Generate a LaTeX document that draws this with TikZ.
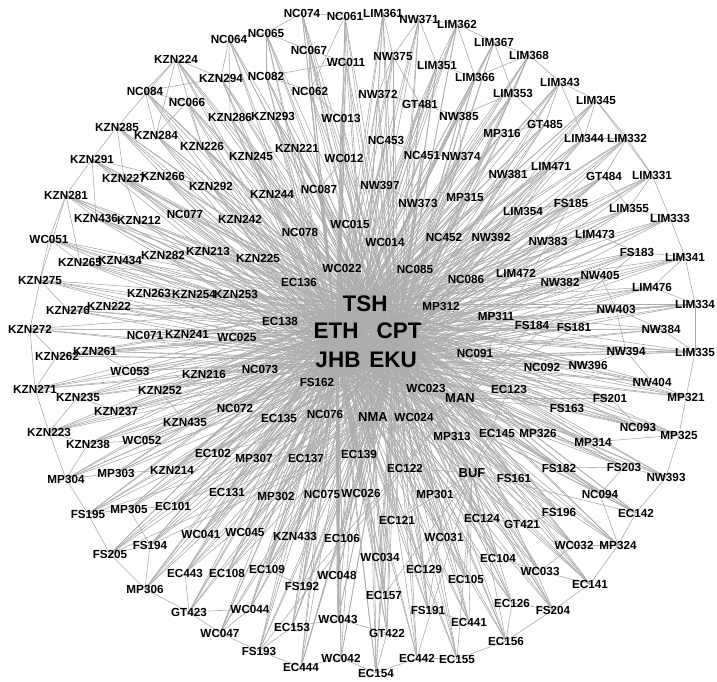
\documentclass[tikz,border=0pt]{standalone}
\usepackage{fontspec}
\setmainfont{Liberation Sans}
\pgfdeclarelayer{bg}
\pgfsetlayers{bg,main}
\definecolor{edgegray}{RGB}{172,172,172}
\tikzset{
  lbl/.style={font=\fontsize{11.7}{12}\selectfont\bfseries, inner sep=0pt, text=black},
  hublbl/.style={font=\fontsize{22.5}{24}\selectfont\bfseries, inner sep=0pt, text=black},
  midlbl/.style={font=\fontsize{13}{14}\selectfont\bfseries, inner sep=0pt, text=black},
  edge/.style={draw=edgegray, line width=0.6pt}
}
\def\allnodes{NC074/302/13, NC061/345/16, LIM361/383/13, NW371/419/19, LIM362/457/24,
NC064/229/39, NC065/266/33, NC067/309/50, WC011/346/62, NW375/393/56, LIM351/437/65,
LIM367/494/42, LIM368/529/55, KZN224/176/59, KZN294/221/78, NC082/266/76, NC062/310/91,
NW372/378/94, GT481/420/104, LIM366/475/77, LIM353/513/93, LIM343/560/82, NC084/145/91,
NC066/187/102, KZN286/230/117, KZN293/273/116, WC013/341/118, NW385/459/116, LIM345/596/100,
MP316/502/133, GT485/545/124, KZN285/117/127, KZN284/156/135, KZN226/202/146, KZN245/251/156,
KZN221/297/148, WC012/344/158, NC453/386/140, NC451/422/155, NW374/461/156, LIM344/584/138,
LIM332/627/138, KZN291/92/159, KZN227/124/178, KZN266/163/176, KZN292/211/186, KZN244/272/194,
NC087/319/189, NW397/380/185, NW381/508/174, LIM471/551/166, GT484/604/176, LIM331/652/175,
KZN281/66/195, KZN436/96/218, KZN212/139/220, NC077/185/214, KZN242/240/219, WC015/350/224,
NW373/418/203, MP315/465/197, LIM354/523/211, FS185/571/203, LIM355/629/208, LIM333/670/218,
NC078/300/232, WC014/385/242, NC452/444/237, NW392/491/237, NW383/548/241, LIM473/595/234,
FS183/637/252, LIM341/685/257, WC051/49/239, KZN265/80/262, KZN434/120/260, KZN282/163/255,
KZN213/208/251, KZN225/258/258, WC022/342/268, NC085/415/269, NC086/466/279, LIM472/516/273,
NW382/560/282, NW405/600/275, LIM476/652/287, KZN275/40/280, KZN263/149/293, KZN254/194/294,
KZN253/236/294, EC136/299/282, MP312/441/306, NW403/616/309, LIM334/695/304, KZN276/68/310,
KZN222/109/306, EC138/280/321, MP311/496/316, FS184/532/325, FS181/574/327, NW384/661/329,
KZN272/30/329, NC071/145/335, KZN241/187/334, WC025/237/337, KZN262/57/356, KZN261/95/351,
NC091/475/353, NW394/626/351, LIM335/695/352, NC092/542/367, NW396/588/365, WC053/130/371,
KZN216/204/374, NC073/260/369, NW404/652/382, KZN271/35/389, KZN235/78/397, KZN252/160/390,
FS162/317/382, WC023/426/388, EC123/509/389, FS201/610/398, MP321/686/397, KZN237/116/411,
NC072/235/408, FS163/567/408, KZN435/185/422, EC135/279/418, NC076/325/414, WC024/414/417,
NC093/638/427, MP325/679/435, KZN223/49/432, WC052/142/440, KZN238/88/444, MP313/452/436,
EC145/497/433, MP326/538/433, MP314/593/442, EC102/213/453, MP307/254/458, EC137/306/458,
EC139/359/454, EC122/405/468, FS161/514/478, FS182/559/468, FS203/624/467, NW393/666/477,
MP304/66/479, MP303/116/473, KZN214/172/470, EC131/227/492, NC094/600/494, MP302/276/496,
NC075/322/494, WC026/361/493, MP301/435/494, FS195/88/514, MP305/129/509, EC101/173/506,
EC121/397/520, EC124/482/518, GT421/522/524, FS196/559/512, EC142/636/513, WC041/201/534,
WC045/245/532, KZN433/295/536, EC106/342/538, WC031/444/537, WC032/574/545, MP324/618/545,
FS205/110/554, FS194/150/545, WC034/380/557, EC104/498/558, EC443/185/573, EC108/227/573,
EC109/267/569, WC048/337/575, EC129/424/569, EC105/466/579, WC033/540/571, MP306/145/589,
FS192/302/586, EC157/384/595, EC141/590/584, WC044/250/609, GT423/189/612, FS191/428/610,
EC441/469/622, EC126/512/603, EC153/292/627, WC043/338/619, FS204/553/610, WC047/220/633,
GT422/387/633, FS193/259/651, EC444/301/667, WC042/341/658, EC442/417/658, EC155/457/659,
EC156/506/641, EC154/376/673}
\begin{document}
\begin{tikzpicture}[x=1pt,y=-1pt]
\useasboundingbox (0,0) rectangle (717,681);
% hubs
\node[hublbl] (TSH) at (365,304) {TSH};
\node[hublbl] (ETH) at (336,331) {ETH};
\node[hublbl] (CPT) at (399,331) {CPT};
\node[hublbl] (JHB) at (338,360) {JHB};
\node[hublbl] (EKU) at (393,360) {EKU};
\node[midlbl] (MAN) at (460,398) {MAN};
\node[midlbl] (NMA) at (373,417) {NMA};
\node[midlbl] (BUF) at (472,473) {BUF};
% peripheral labels
\foreach \n/\x/\y in \allnodes { \node[lbl] (\n) at (\x,\y) {\n}; }
\begin{pgfonlayer}{bg}
\foreach \n/\x/\y in \allnodes {
  \foreach \h in {TSH,ETH,CPT,JHB,EKU} { \draw[edge] (\h.center) -- (\n.center); }
}
\foreach \a/\b in {TSH/ETH,TSH/CPT,ETH/JHB,CPT/EKU,JHB/EKU,TSH/JHB,ETH/CPT,TSH/EKU,
  MAN/TSH,MAN/ETH,MAN/CPT,MAN/JHB,MAN/EKU,NMA/TSH,NMA/ETH,NMA/CPT,NMA/JHB,NMA/EKU,
  BUF/TSH,BUF/ETH,BUF/CPT,BUF/JHB,BUF/EKU,
  MAN/FS162,MAN/FS163,MAN/FS161,MAN/FS182,MAN/FS184,MAN/FS181,MAN/FS201,MAN/FS203,MAN/FS196,MAN/FS204,MAN/FS191,MAN/FS192,MAN/FS193,MAN/FS194,MAN/FS195,MAN/FS205,MAN/FS183,MAN/FS185,
  BUF/EC122,BUF/EC121,BUF/EC124,BUF/EC104,BUF/EC105,BUF/EC126,BUF/EC156,BUF/EC441,BUF/EC442,BUF/EC155,BUF/EC141,BUF/EC142,BUF/EC129,BUF/EC157,BUF/EC123,BUF/EC145,
  NMA/EC101,NMA/EC102,NMA/EC106,NMA/EC108,NMA/EC109,NMA/EC131,NMA/EC135,NMA/EC137,NMA/EC139,NMA/EC153,NMA/EC154,NMA/EC443,NMA/EC444,
  KZN224/NC084,KZN224/KZN294,KZN224/KZN285,KZN224/KZN226,KZN224/KZN284,
  NC084/KZN294,NC084/NC066,NC084/KZN284,NC066/KZN284,NC066/KZN226,
  KZN285/KZN291,KZN285/KZN284,KZN285/KZN227,KZN291/KZN281,KZN291/KZN266,KZN291/KZN436,
  KZN281/KZN436,KZN281/KZN275,KZN281/KZN265,KZN227/KZN212,KZN227/KZN266,KZN266/KZN292,
  NC064/NC065,NC064/KZN286,NC064/KZN294,
  NC074/NC065,NC074/NC067,NC074/NC061,NC061/WC011,NC061/NC062,
  LIM361/NW371,LIM361/NW375,LIM361/NW372,NW371/LIM362,NW371/NW375,NW371/LIM351,
  LIM362/LIM367,LIM362/LIM351,LIM362/LIM366,NC065/NC067,NC065/NC082,
  NC067/WC011,NC067/NC062,WC011/WC013,WC011/NC082,NW375/NW372,NW375/GT481,
  LIM351/LIM366,LIM351/GT481,NW372/GT481,GT481/NW385,NC082/NC062,NC062/WC013,
  NW385/NW374,NW385/LIM353,NC453/NC451,NC451/NW374,WC013/WC012,WC012/NC087,
  KZN221/KZN245,KZN221/KZN293,NW397/NW373,
  LIM367/LIM368,LIM367/LIM366,LIM367/LIM353,LIM368/LIM343,LIM368/LIM366,LIM368/LIM353,
  LIM343/LIM345,LIM343/GT485,LIM343/LIM344,LIM345/LIM332,LIM345/LIM344,LIM345/LIM331,
  LIM332/LIM331,LIM332/LIM344,LIM332/GT484,LIM331/LIM333,LIM331/LIM355,
  LIM333/LIM341,LIM333/LIM355,GT485/MP316,GT485/LIM353,LIM471/NW381,LIM471/LIM354,
  GT484/FS185,GT484/LIM355,FS185/LIM354,
  LIM341/LIM334,LIM341/FS183,LIM341/LIM476,LIM334/LIM335,LIM334/NW403,LIM334/LIM476,
  LIM335/MP321,LIM335/NW394,LIM335/NW384,MP321/MP325,MP321/NW404,MP325/NC093,MP325/MP314,
  NW405/NW382,NW405/NW403,LIM473/NW383,LIM473/FS183,NW403/NW384,NW403/NW394,
  NW394/NW396,NW396/NC092,FS201/FS163,FS201/NC093,FS184/FS181,NW404/NW394,
  NW393/FS203,NW393/EC142,NW393/MP325,FS203/NC094,FS203/FS182,NC094/EC142,NC094/MP324,
  EC142/MP324,MP324/EC141,MP324/WC032,EC141/FS204,EC141/WC033,FS204/EC126,FS204/EC156,
  EC126/EC156,EC156/EC155,WC032/WC033,WC033/EC104,FS196/GT421,GT421/EC124,
  EC155/EC442,EC442/EC154,EC154/WC042,WC042/EC444,EC444/FS193,
  GT422/EC157,GT422/EC154,GT422/WC043,WC043/EC153,EC153/FS193,FS192/EC109,WC048/WC043,
  EC157/WC034,FS191/EC129,EC129/WC031,EC441/FS191,
  FS193/WC047,WC047/GT423,GT423/MP306,MP306/FS205,FS205/FS195,FS195/MP304,
  MP304/MP303,MP303/KZN214,MP305/FS195,MP305/FS194,FS194/FS205,MP306/FS194,
  EC443/GT423,EC101/MP305,GT423/WC044,WC044/WC047,
  WC051/KZN275,WC051/KZN265,WC051/KZN281,KZN275/KZN272,KZN275/KZN276,
  KZN272/KZN271,KZN272/KZN262,KZN271/KZN223,KZN271/KZN235,KZN271/KZN262,
  KZN223/KZN238,KZN223/KZN235,KZN238/WC052,KZN238/MP304,KZN262/KZN261,KZN261/WC053,
  KZN276/KZN222,KZN434/KZN282,KZN282/KZN213,KZN263/KZN254,KZN237/KZN235,KZN252/KZN435,
  MP304/KZN223}
  { \draw[edge] (\a.center) -- (\b.center); }
\end{pgfonlayer}
\end{tikzpicture}
\end{document}
